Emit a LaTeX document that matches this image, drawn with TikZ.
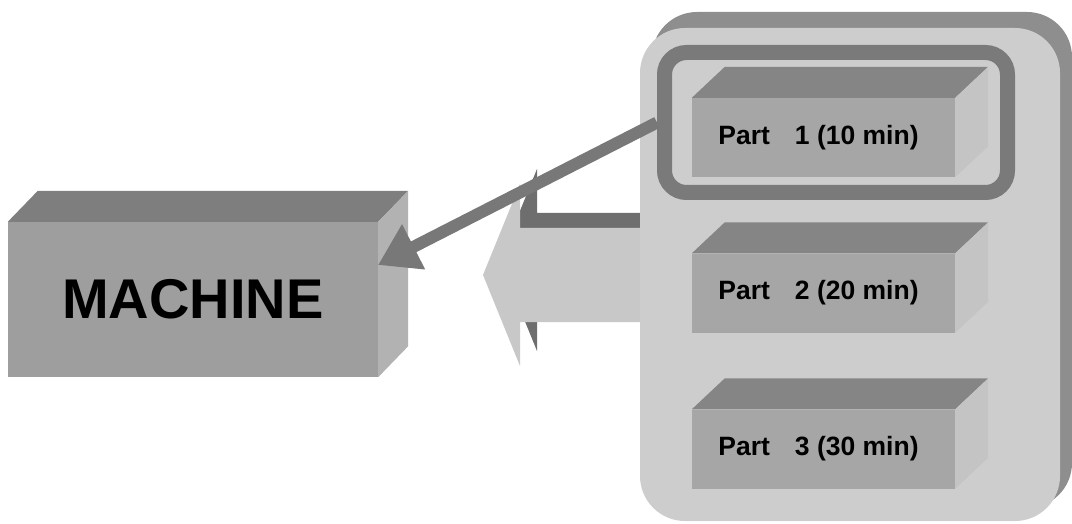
\documentclass[tikz,border=0pt]{standalone}
\usepackage{fontspec}
\setmainfont{Liberation Sans}
\usetikzlibrary{arrows.meta,calc}
\definecolor{rectfill}{HTML}{CDCDCD}
\definecolor{rectshadow}{HTML}{8E8E8E}
\definecolor{frontc}{HTML}{9E9E9E}
\definecolor{topc}{HTML}{7E7E7E}
\definecolor{sidec}{HTML}{B2B2B2}
\definecolor{pfront}{HTML}{A6A6A6}
\definecolor{ptop}{HTML}{858585}
\definecolor{pside}{HTML}{C4C4C4}
\definecolor{framec}{HTML}{7A7A7A}
\definecolor{linkc}{HTML}{787878}
\definecolor{bigarrow}{HTML}{C8C8C8}
\definecolor{bigshadow}{HTML}{6E6E6E}
\newcommand\boxfaces[5]{%
  \fill[#4] (#1.north west) -- ++(#2,#3) -- ($(#1.north east)+(#2,#3)$) -- (#1.north east) -- cycle;
  \fill[#5] (#1.north east) -- ++(#2,#3) -- ($(#1.south east)+(#2,#3)$) -- (#1.south east) -- cycle;}
\begin{document}
\begin{tikzpicture}[x=1pt,y=-1pt,
  mface/.style={fill=frontc, minimum width=370pt, minimum height=155pt, inner sep=0pt,
    font=\fontsize{56}{60}\selectfont\bfseries},
  pface/.style={fill=pfront, minimum width=263pt, minimum height=79pt, inner sep=0pt,
    font=\fontsize{26.5}{30}\selectfont\bfseries},
  hlframe/.style={draw=framec, line width=15pt, rounded corners=22pt,
    minimum width=343pt, minimum height=140pt, inner sep=0pt},
  link/.style={draw=linkc, line width=12pt, -{Triangle[length=40pt,width=48pt]}},
  bigarr/.style={fill=bigarrow},
  bigshad/.style={fill=bigshadow}]
\useasboundingbox (0,0) rectangle (1072,524);
% big block arrow (shadow, then face)
\fill[bigshad, shift={(17,-15)}] (645,228) -- (520,228) -- (520,184) -- (483,275) -- (520,366) -- (520,322) -- (645,322) -- cycle;
\fill[bigarr] (645,228) -- (520,228) -- (520,184) -- (483,275) -- (520,366) -- (520,322) -- (645,322) -- cycle;
% group panel
\fill[rectshadow, rounded corners=45pt] (652,12) rectangle (1072,508);
\fill[rectfill, rounded corners=45pt] (640,28) rectangle (1060,521);
% parts
\node[pface] (p1) at (823.5,137.5) {\hspace{-10pt}Part\hspace{25pt}1 (10 min)};
\boxfaces{p1}{33}{-31}{ptop}{pside}
\node[pface] (p2) at (823.5,293) {\hspace{-10pt}Part\hspace{25pt}2 (20 min)};
\boxfaces{p2}{33}{-31}{ptop}{pside}
\node[pface] (p3) at (823.5,449) {\hspace{-10pt}Part\hspace{25pt}3 (30 min)};
\boxfaces{p3}{33}{-31}{ptop}{pside}
% highlight frame
\node[hlframe] (hl) at (836,122.5) {};
% machine
\node[mface] (m) at (193,299.5) {MACHINE};
\boxfaces{m}{30}{-31}{topc}{sidec}
\coordinate (mtip) at (378,265);
% link arrow
\draw[link] (hl.west) -- (mtip);
\end{tikzpicture}
\end{document}
